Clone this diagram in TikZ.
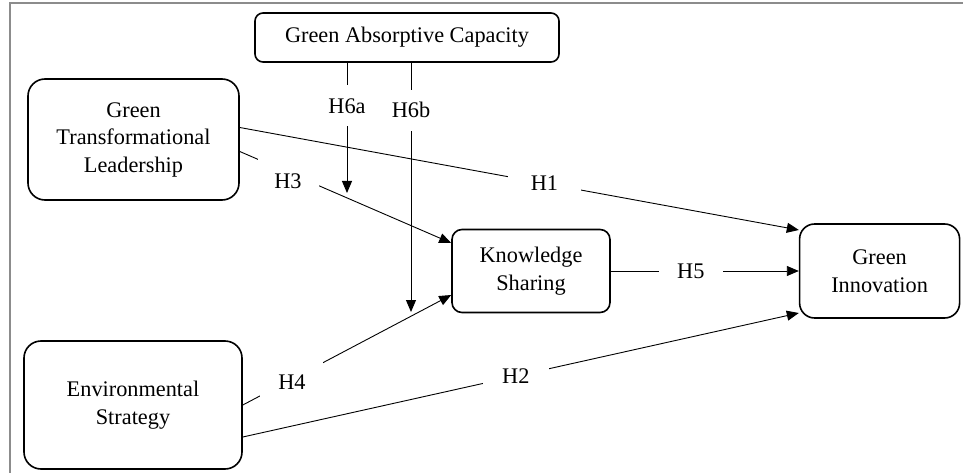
\documentclass[tikz,border=0pt]{standalone}
\usepackage{fontspec}
\setmainfont{Liberation Serif}
\usetikzlibrary{arrows.meta,positioning}

\begin{document}
\begin{tikzpicture}[
    x=1pt, y=-1pt,
    font=\fontsize{22.3}{27.5}\selectfont,
    blk/.style={rectangle, draw=black, line width=1.6pt, align=center, inner sep=2pt},
    hyp/.style={fill=white, inner sep=0pt, minimum height=28pt},
    arr/.style={-{Triangle[length=12pt,width=10pt]}, line width=0.9pt}
  ]
    \useasboundingbox (0,0) rectangle (963,473);
    \draw[draw=black!45, line width=2pt] (10,473) -- (10,3) -- (963,3);

    \node[blk, rounded corners=8pt, minimum width=304pt, minimum height=49pt] (gac) at (407,37.5) {Green Absorptive Capacity};
    \node[blk, rounded corners=17pt, minimum width=211pt, minimum height=121pt] (gtl) at (133.5,139.5) {Green\\Transformational\\Leadership};
    \node[blk, rounded corners=17pt, minimum width=218pt, minimum height=128pt] (es) at (133,405) {Environmental\\Strategy};
    \node[blk, rounded corners=10pt, minimum width=158pt, minimum height=83pt] (ks) at (531,271) {Knowledge\\Sharing};
    \node[blk, rounded corners=15pt, minimum width=160pt, minimum height=94pt, right=188pt of ks] (gi) {Green\\Innovation};

    \coordinate (m3) at (347,193);
    \coordinate (m4) at (411,312);

    \draw[arr] ([yshift=12pt]gtl.east) -- node[hyp, pos=0.545, minimum width=73pt] {H1} ([yshift=41pt]gi.west);
    \draw[arr] ([yshift=-32pt]es.east) -- node[hyp, pos=0.491, minimum width=66pt] {H2} ([yshift=-42pt]gi.west);
    \draw[arr] ([yshift=-12pt]gtl.east) -- node[hyp, pos=0.228, yshift=-9pt, minimum width=61pt, minimum height=46pt] {H3} ([yshift=28pt]ks.west);
    \draw[arr] (es.east) -- node[hyp, pos=0.236, yshift=-3pt, minimum width=63pt, minimum height=40pt] {H4} ([yshift=-24pt]ks.west);
    \draw[arr] (ks.east) -- node[hyp, pos=0.4255, minimum width=64pt] {H5} (gi.west);

    \draw[arr] (gac.south -| m3) -- node[hyp, pos=0.33, minimum width=40pt, minimum height=41pt] {H6a} (m3);
    \draw[arr] (gac.south -| m4) -- node[hyp, pos=0.19, minimum width=40pt, minimum height=41pt] {H6b} (m4);
\end{tikzpicture}
\end{document}
